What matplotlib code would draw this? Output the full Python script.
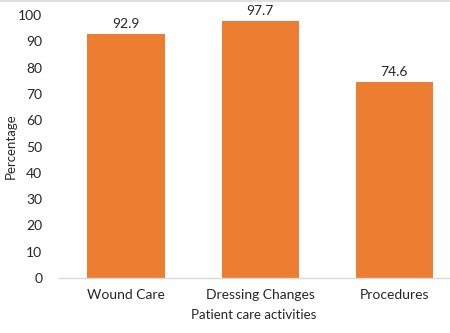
import matplotlib
matplotlib.use("Agg")
import matplotlib.pyplot as plt
from matplotlib.lines import Line2D

categories = ["Wound Care", "Dressing Changes", "Procedures"]
values = [92.9, 97.7, 74.6]
yticks = [0, 10, 20, 30, 40, 50, 60, 70, 80, 90, 100]

plt.rcParams["font.family"] = ["Lato", "DejaVu Sans"]

fig = plt.figure(figsize=(4.5, 3.33), dpi=100)
W, H = 450, 333
ax = fig.add_axes([59 / W, 1 - 278 / H, (449 - 59) / W, (278 - 15) / H])

x = range(len(categories))
bars = ax.bar(x, values, width=0.575, color="#ED7D31")

# value labels above the bars
for b, v in zip(bars, values):
    ax.text(b.get_x() + b.get_width() / 2, v + 1.5, f"{v:.1f}",
            ha="center", va="bottom", fontsize=10, color="#262626")

ax.set_xlim(-0.5, 2.41)
ax.set_ylim(0, 100)
ax.set_yticks(yticks)
ax.set_xticks(list(x))
ax.set_xticklabels(categories)
ax.tick_params(axis="both", length=0, labelsize=10, colors="#262626")
ax.tick_params(axis="y", pad=12)
ax.tick_params(axis="x", pad=8)

for s in ["top", "right", "left"]:
    ax.spines[s].set_visible(False)
ax.spines["bottom"].set_color("#D9D9D9")
ax.spines["bottom"].set_linewidth(1.0)

ax.set_ylabel("Percentage", fontsize=9.5, color="#262626")
ax.yaxis.set_label_coords((17 - 59) / (449 - 59), 0.5)
ax.set_xlabel("Patient care activities", fontsize=9.5, color="#262626", labelpad=6)

# light chart border at the top
fig.add_artist(Line2D([0, 1], [0.998, 0.998], color="#D9D9D9", lw=1.2,
                      transform=fig.transFigure))

fig.savefig("out.png", dpi=100)
